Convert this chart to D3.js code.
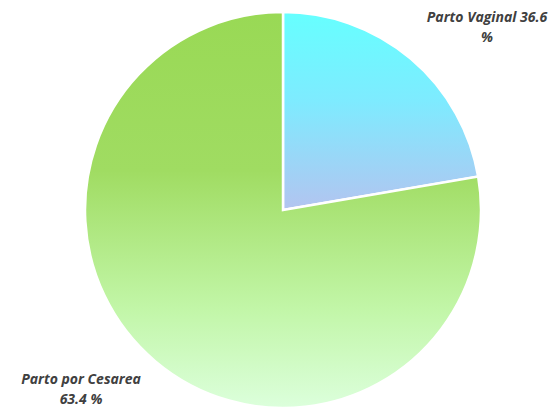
<!DOCTYPE html>
<html>
<head>
<meta charset="utf-8">
<script src="https://cdn.jsdelivr.net/npm/d3@7"></script>
<style>
  body { margin: 0; background: #fff; }
  .label { font-family: "Open Sans", Lato, sans-serif; font-weight: bold; font-style: italic; font-size: 14px; fill: #404040; }
</style>
</head>
<body>
<div id="chart"></div>
<script>
const width = 554,
  height = 409,
  cx = 283,
  cy = 210,
  radius = 198;

// slice shares as drawn in the picture, and the label text shown next to them
const categories = ["Parto Vaginal", "Parto por Cesarea"];
const shares = [22.3, 77.7];
const labelValues = ["36.6", "63.4"];

const svg = d3
  .select("#chart")
  .append("svg")
  .attr("width", width)
  .attr("height", height);

const defs = svg.append("defs");

// gradients are in the slices' own (centered) coordinates
const gradBlue = defs
  .append("linearGradient")
  .attr("id", "grad-blue")
  .attr("gradientUnits", "userSpaceOnUse")
  .attr("x1", 0).attr("y1", -radius)
  .attr("x2", 0).attr("y2", 0);
gradBlue.append("stop").attr("offset", "0%").attr("stop-color", "#66ffff");
gradBlue.append("stop").attr("offset", "45%").attr("stop-color", "#7eebff");
gradBlue.append("stop").attr("offset", "100%").attr("stop-color", "#b3c4f0");

const gradGreen = defs
  .append("linearGradient")
  .attr("id", "grad-green")
  .attr("gradientUnits", "userSpaceOnUse")
  .attr("x1", 0).attr("y1", -radius)
  .attr("x2", 0).attr("y2", radius);
gradGreen.append("stop").attr("offset", "0%").attr("stop-color", "#99d955");
gradGreen.append("stop").attr("offset", "40%").attr("stop-color", "#a0dc62");
gradGreen.append("stop").attr("offset", "75%").attr("stop-color", "#c2f6a8");
gradGreen.append("stop").attr("offset", "100%").attr("stop-color", "#dcffdc");

const fills = ["url(#grad-blue)", "url(#grad-green)"];

const pie = d3.pie().sort(null).value(d => d);
const arc = d3.arc().innerRadius(0).outerRadius(radius);

const g = svg.append("g").attr("transform", "translate(" + cx + "," + cy + ")");

g.selectAll("path")
  .data(pie(shares))
  .enter()
  .append("path")
  .attr("d", arc)
  .attr("fill", (d, i) => fills[i])
  .attr("stroke", "#fff")
  .attr("stroke-width", 2.5)
  .attr("stroke-linejoin", "miter");

// Labels (placed like the original: outside, two lines)
const labelLines = [
  [categories[0] + " " + labelValues[0], "%"],
  [categories[1], labelValues[1] + " %"]
];
const labelPos = [
  { x: 487, y: 22 },
  { x: 81, y: 384 }
];

labelLines.forEach((lines, i) => {
  const t = svg
    .append("text")
    .attr("class", "label")
    .attr("text-anchor", "middle")
    .attr("x", labelPos[i].x)
    .attr("y", labelPos[i].y);
  lines.forEach((line, j) => {
    t.append("tspan")
      .attr("x", labelPos[i].x)
      .attr("dy", j === 0 ? 0 : 20)
      .text(line);
  });
});
</script>
</body>
</html>
